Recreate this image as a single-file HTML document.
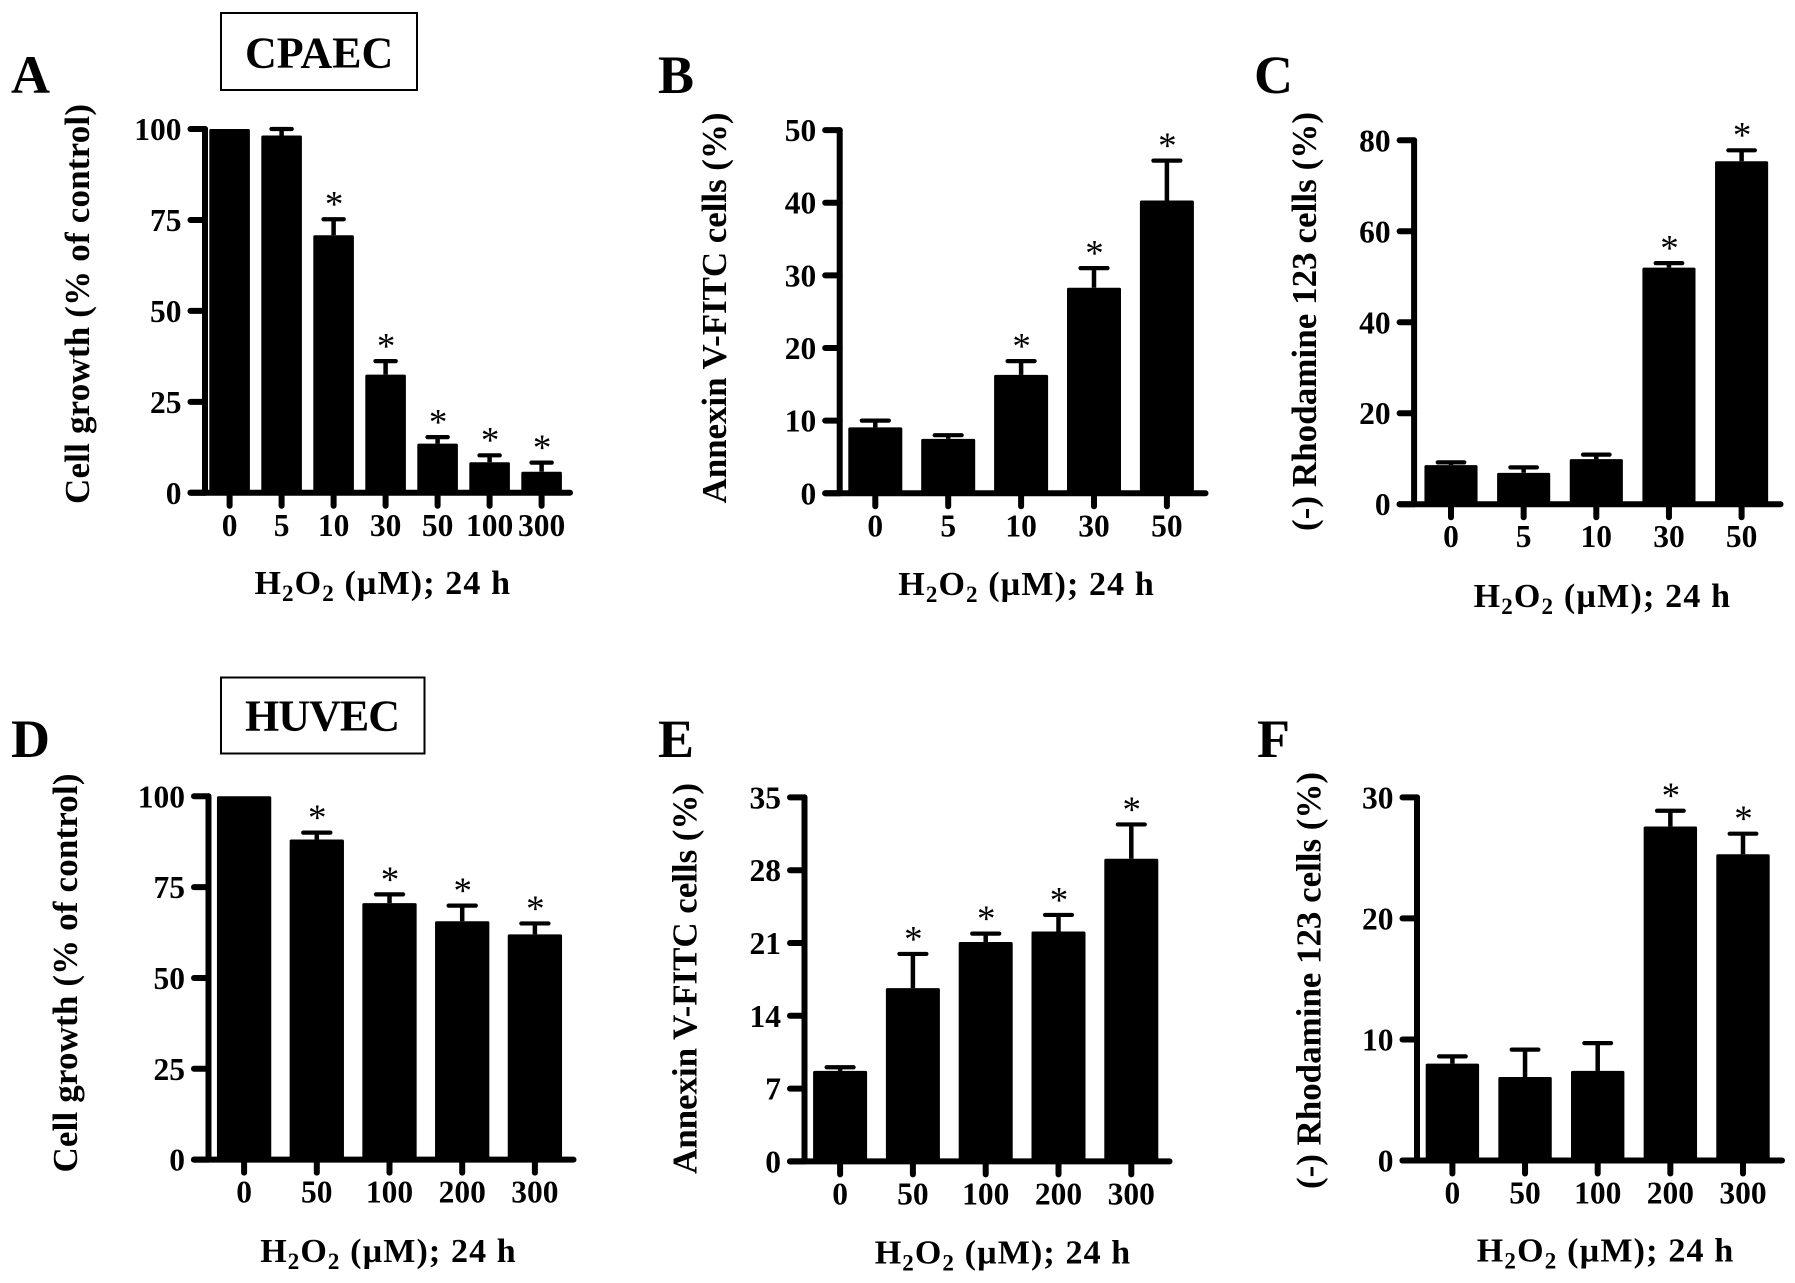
<!DOCTYPE html>
<html lang="en">
<head>
<meta charset="utf-8">
<title>H2O2 effects on CPAEC and HUVEC</title>
<style>
html,body{margin:0;padding:0;background:#fff;}
svg{display:block;}
text{font-family:"Liberation Serif","Times New Roman",serif;font-weight:bold;fill:#000;}
.letter{font-size:54px;}
.box-text{font-size:44px;}
.axis-title{font-size:35px;}
.x-title{font-size:34px;}
.sub{font-size:23px;}
.tick{font-size:31.5px;}
.star{font-size:37px;font-weight:normal;text-anchor:middle;}
</style>
</head>
<body>
<svg id="figure" width="1795" height="1283" viewBox="0 0 1795 1283" xmlns="http://www.w3.org/2000/svg">
  <rect x="0" y="0" width="1795" height="1283" fill="#fff"/>

  <rect x="221" y="13" width="196" height="77" fill="none" stroke="#000" stroke-width="2"/>
  <text class="box-text" x="245" y="67.5">CPAEC</text>
  <rect x="221" y="677.5" width="203.5" height="76" fill="none" stroke="#000" stroke-width="2"/>
  <text class="box-text" x="245" y="730.5" textLength="155">HUVEC</text>

  <text class="letter" x="11" y="93">A</text>
  <text class="letter" x="658" y="93">B</text>
  <text class="letter" x="1254" y="93">C</text>
  <text class="letter" x="11" y="757">D</text>
  <text class="letter" x="658" y="757">E</text>
  <text class="letter" x="1257" y="757">F</text>

  <text class="axis-title" transform="translate(89 504) rotate(-90)" textLength="400">Cell growth (% of control)</text>
  <text class="axis-title" transform="translate(726 503.5) rotate(-90)" textLength="391">Annexin V-FITC cells (%)</text>
  <text class="axis-title" transform="translate(1316 531) rotate(-90)" textLength="419">(-) Rhodamine 123 cells (%)</text>
  <text class="axis-title" transform="translate(77 1172.5) rotate(-90)" textLength="399">Cell growth (% of control)</text>
  <text class="axis-title" transform="translate(696.5 1174) rotate(-90)" textLength="391">Annexin V-FITC cells (%)</text>
  <text class="axis-title" transform="translate(1320.5 1189) rotate(-90)" textLength="417">(-) Rhodamine 123 cells (%)</text>

  <text class="x-title" x="254.5" y="594" textLength="255.5">H<tspan class="sub" dy="7">2</tspan><tspan dy="-7">O</tspan><tspan class="sub" dy="7">2</tspan><tspan dy="-7"> (µM); 24 h</tspan></text>
  <text class="x-title" x="898.3" y="595" textLength="255.5">H<tspan class="sub" dy="7">2</tspan><tspan dy="-7">O</tspan><tspan class="sub" dy="7">2</tspan><tspan dy="-7"> (µM); 24 h</tspan></text>
  <text class="x-title" x="1473.6" y="607" textLength="256.5">H<tspan class="sub" dy="7">2</tspan><tspan dy="-7">O</tspan><tspan class="sub" dy="7">2</tspan><tspan dy="-7"> (µM); 24 h</tspan></text>
  <text class="x-title" x="260.2" y="1262" textLength="255.5">H<tspan class="sub" dy="7">2</tspan><tspan dy="-7">O</tspan><tspan class="sub" dy="7">2</tspan><tspan dy="-7"> (µM); 24 h</tspan></text>
  <text class="x-title" x="874.7" y="1263.3" textLength="255.5">H<tspan class="sub" dy="7">2</tspan><tspan dy="-7">O</tspan><tspan class="sub" dy="7">2</tspan><tspan dy="-7"> (µM); 24 h</tspan></text>
  <text class="x-title" x="1476.8" y="1261.5" textLength="256.5">H<tspan class="sub" dy="7">2</tspan><tspan dy="-7">O</tspan><tspan class="sub" dy="7">2</tspan><tspan dy="-7"> (µM); 24 h</tspan></text>
</svg>

<script>
// Panel A
const categoriesA = ['0', '5', '10', '30', '50', '100', '300'];
const meansA = [100, 98.2, 70.8, 32.5, 13.5, 8.4, 5.8];
const upperA = [100, 100, 75.2, 36.2, 15.3, 10.3, 8.3];
const starsA = [0, 0, 1, 1, 1, 1, 1];
const yTicksA = [0, 25, 50, 75, 100];
// Panel B
const categoriesB = ['0', '5', '10', '30', '50'];
const meansB = [9.07, 7.5, 16.3, 28.3, 40.3];
const upperB = [10, 8, 18.2, 31, 45.8];
const starsB = [0, 0, 1, 1, 1];
const yTicksB = [0, 10, 20, 30, 40, 50];
// Panel C
const categoriesC = ['0', '5', '10', '30', '50'];
const meansC = [8.6, 6.9, 9.9, 52, 75.4];
const upperC = [9.2, 8.1, 10.9, 53, 77.8];
const starsC = [0, 0, 0, 1, 1];
const yTicksC = [0, 20, 40, 60, 80];
// Panel D
const categoriesD = ['0', '50', '100', '200', '300'];
const meansD = [100, 88.1, 70.6, 65.6, 62];
const upperD = [100, 90, 73, 69.9, 65];
const starsD = [0, 1, 1, 1, 1];
const yTicksD = [0, 25, 50, 75, 100];
// Panel E
const categoriesE = ['0', '50', '100', '200', '300'];
const meansE = [8.7, 16.66, 21.1, 22.1, 29.1];
const upperE = [9.05, 19.95, 21.9, 23.7, 32.4];
const starsE = [0, 1, 1, 1, 1];
const yTicksE = [0, 7, 14, 21, 28, 35];
// Panel F
const categoriesF = ['0', '50', '100', '200', '300'];
const meansF = [8, 6.9, 7.4, 27.6, 25.3];
const upperF = [8.6, 9.16, 9.7, 28.9, 27];
const starsF = [0, 0, 0, 1, 1];
const yTicksF = [0, 10, 20, 30];

const SVG_NS = 'http://www.w3.org/2000/svg';
const figure = document.getElementById('figure');

function make(tag, parent, attrs) {
  const el = document.createElementNS(SVG_NS, tag);
  for (const k in attrs) el.setAttribute(k, attrs[k]);
  parent.appendChild(el);
  return el;
}

function drawPanel(id, categories, means, upper, stars, yTicks, g) {
  const yMax = yTicks[yTicks.length - 1];
  const yScale = v => g.yBase - (v / yMax) * (g.yBase - g.yTop);
  const xScale = i => g.xFirst + i * g.xStep;

  const panel = make('g', figure, {});
  
  

  categories.forEach((cat, i) => {
    const cx = xScale(i);
    const top = yScale(means[i]);
    const cap = yScale(upper[i]);
    const half = g.barWidth / 2;

    if (upper[i] > means[i]) {
      const stem = make('line', panel, { x1: cx, x2: cx, y1: top, y2: cap, stroke: '#000', 'stroke-width': 4.5 });
      
      
      const capLine = make('line', panel, { x1: cx - half / 2, x2: cx + half / 2, y1: cap, y2: cap, stroke: '#000', 'stroke-width': 4.2, 'stroke-linecap': 'round' });
      
      
    }

    const bar = make('rect', panel, { x: cx - half, y: top, width: g.barWidth, height: g.yBase - top, rx: 1.5, fill: '#000' });
    
    

    const tick = make('line', panel, { x1: cx, x2: cx, y1: g.yBase, y2: g.yBase + 13, stroke: '#000', 'stroke-width': 6, 'stroke-linecap': 'round' });
    
    

    const label = make('text', panel, { x: cx, y: g.yBase + 43, class: 'tick', 'text-anchor': 'middle' });
    label.textContent = cat;
    
    

    if (stars[i]) {
      const star = make('text', panel, { x: cx + 0.5, y: cap - 2.6, class: 'star' });
      star.textContent = '*';
      
      
    }
  });

  const yAxis = make('line', panel, { x1: g.xAxis, x2: g.xAxis, y1: g.yTop, y2: g.yBase, stroke: '#000', 'stroke-width': 6, 'stroke-linecap': 'round' });
  
  

  const xAxis = make('line', panel, { x1: g.xAxis - 14.5, x2: g.xEnd, y1: g.yBase, y2: g.yBase, stroke: '#000', 'stroke-width': 6, 'stroke-linecap': 'round' });
  
  

  yTicks.forEach(v => {
    const y = yScale(v);
    const tick = make('line', panel, { x1: g.xAxis - 14.5, x2: g.xAxis, y1: y, y2: y, stroke: '#000', 'stroke-width': 6, 'stroke-linecap': 'round' });
    
    

    const label = make('text', panel, { x: g.xAxis - 23.5, y: y + 11, class: 'tick', 'text-anchor': 'end' });
    label.textContent = String(v);
    
    
  });
}

drawPanel('a', categoriesA, meansA, upperA, starsA, yTicksA, { xAxis: 205, xEnd: 570, yTop: 129, yBase: 492.8, xFirst: 229.6, xStep: 52, barWidth: 40.6 });
drawPanel('b', categoriesB, meansB, upperB, starsB, yTicksB, { xAxis: 839.7, xEnd: 1205.5, yTop: 130.1, yBase: 493.3, xFirst: 875.3, xStep: 72.9, barWidth: 54 });
drawPanel('c', categoriesC, meansC, upperC, starsC, yTicksC, { xAxis: 1414.1, xEnd: 1780.5, yTop: 140.3, yBase: 504.2, xFirst: 1451, xStep: 72.65, barWidth: 53.1 });
drawPanel('d', categoriesD, meansD, upperD, starsD, yTicksD, { xAxis: 208.5, xEnd: 573.5, yTop: 796.3, yBase: 1159.6, xFirst: 244.1, xStep: 72.7, barWidth: 54.3 });
drawPanel('e', categoriesE, meansE, upperE, starsE, yTicksE, { xAxis: 804.5, xEnd: 1169.5, yTop: 797.4, yBase: 1161.4, xFirst: 840.1, xStep: 72.8, barWidth: 54 });
drawPanel('f', categoriesF, meansF, upperF, starsF, yTicksF, { xAxis: 1417, xEnd: 1782, yTop: 797.4, yBase: 1160.5, xFirst: 1452.4, xStep: 72.65, barWidth: 53.4 });
</script>
</body>
</html>
